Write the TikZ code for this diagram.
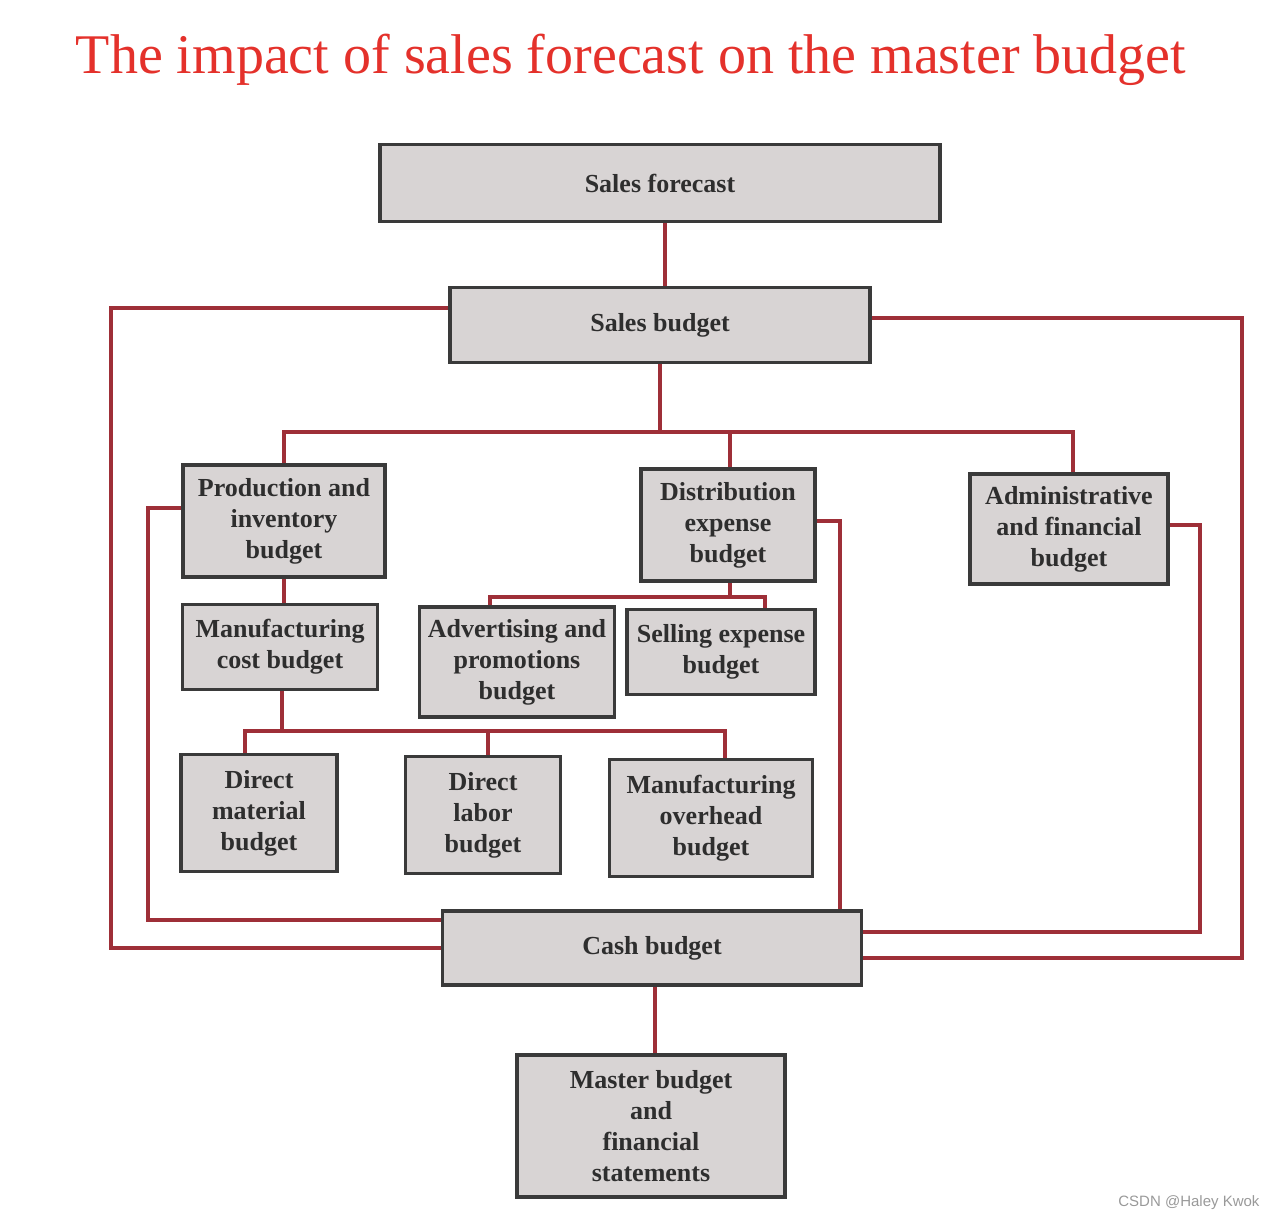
\documentclass[tikz,border=0pt]{standalone}
\usepackage{fontspec}
\setmainfont{Liberation Serif}
\newfontfamily\wmfont{Liberation Sans}
\usepackage{xcolor}
\usetikzlibrary{calc, backgrounds}
\definecolor{titlered}{HTML}{E4312B}
\definecolor{linkred}{HTML}{9E2F38}
\definecolor{boxgray}{HTML}{D8D4D4}
\definecolor{edgegray}{HTML}{3A3A3A}
\definecolor{boxtext}{HTML}{2E2E2E}

\begin{document}
\begin{tikzpicture}[
  x=1pt, y=-1pt,
  box/.style={draw=edgegray, line width=3.5pt, fill=boxgray, inner sep=0pt,
              align=center, text=boxtext, font=\bfseries\fontsize{26}{31}\selectfont},
  link/.style={draw=linkred, line width=4pt},
]
  \useasboundingbox (0,0) rectangle (1278,1218);

  \node[anchor=base, text=titlered, font=\fontsize{56}{62}\selectfont] (title) at (631,73)
    {The impact of sales forecast on the master budget};

  \node[box, minimum width=560pt, minimum height=77pt] (fcst) at (660,183) {Sales forecast};
  \node[box, minimum width=420pt, minimum height=75pt] (sbud) at (660,325) {Sales budget};
  \node[box, minimum width=202pt, minimum height=112pt] (prod) at (284,521) {Production and\\inventory\\budget};
  \node[box, minimum width=174pt, minimum height=112pt] (dist) at (728,525) {Distribution\\expense\\budget};
  \node[box, minimum width=198pt, minimum height=110pt] (adm) at (1069,529) {Administrative\\and financial\\budget};
  \node[box, minimum width=195pt, minimum height=85pt] (mcost) at (280,647) {Manufacturing\\cost budget};
  \node[box, minimum width=195pt, minimum height=110pt] (adv) at (517,662) {Advertising and\\promotions\\budget};
  \node[box, minimum width=188pt, minimum height=85pt] (sell) at (721,652) {Selling expense\\budget};
  \node[box, minimum width=156pt, minimum height=117pt] (dmat) at (259,813) {Direct\\material\\budget};
  \node[box, minimum width=155pt, minimum height=117pt] (dlab) at (483,815) {Direct\\labor\\budget};
  \node[box, minimum width=203pt, minimum height=117pt] (moh) at (711,818) {Manufacturing\\overhead\\budget};
  \node[box, minimum width=419pt, minimum height=74pt] (cash) at (652,948) {Cash budget};
  \node[box, minimum width=268pt, minimum height=142pt] (master) at (651,1126) {Master budget\\and\\financial\\statements};

  \node[anchor=base east, text=gray!80, font=\wmfont\fontsize{15}{18}\selectfont] (mark) at (1263,1206)
    {CSDN @Haley Kwok};

  \begin{scope}[on background layer]
    \draw[link] ([xshift=5pt]fcst.south) -- ([xshift=5pt]sbud.north);
    \draw[link] ([yshift=17pt]sbud.west) -- ++(-337,0) |- (cash.west);
    \draw[link] ([yshift=7pt]sbud.east) -- ++(370,0) |- ([yshift=-10pt]cash.east);

    \coordinate (bar1) at ($(sbud.south)+(0,68)$);
    \draw[link] (sbud.south) -- (bar1);
    \draw[link] (prod.north) -- (prod.north |- bar1) -- ([xshift=4pt]adm.north |- bar1) -- ([xshift=4pt]adm.north);
    \draw[link] ([xshift=2pt]dist.north) -- ([xshift=2pt]dist.north |- bar1);

    \draw[link] ([yshift=13pt]prod.west) -- ++(-33,0) |- ([yshift=28pt]cash.west);
    \draw[link] ([yshift=4pt]dist.east) -- ++(23,0) coordinate (dturn) -- (dturn |- cash.north);
    \draw[link] ([yshift=4pt]adm.east) -- ++(30,0) |- ([yshift=16pt]cash.east);

    \draw[link] (prod.south) -- (prod.south |- mcost.north);

    \coordinate (bar2) at ($(dist.south)+(2,14)$);
    \draw[link] ([xshift=2pt]dist.south) -- (bar2);
    \draw[link] ([xshift=-27pt]adv.north) -- ([xshift=-27pt]adv.north |- bar2)
      -- ([xshift=44pt]sell.north |- bar2) -- ([xshift=44pt]sell.north);

    \coordinate (bar3) at ($(mcost.south)+(2,40)$);
    \draw[link] ([xshift=2pt]mcost.south) -- (bar3);
    \draw[link] ([xshift=-14pt]dmat.north) -- ([xshift=-14pt]dmat.north |- bar3)
      -- ([xshift=14pt]moh.north |- bar3) -- ([xshift=14pt]moh.north);
    \draw[link] ([xshift=5pt]dlab.north) -- ([xshift=5pt]dlab.north |- bar3);

    \draw[link] ([xshift=3pt]cash.south) -- ([xshift=3pt]cash.south |- master.north);
  \end{scope}
\end{tikzpicture}
\end{document}
